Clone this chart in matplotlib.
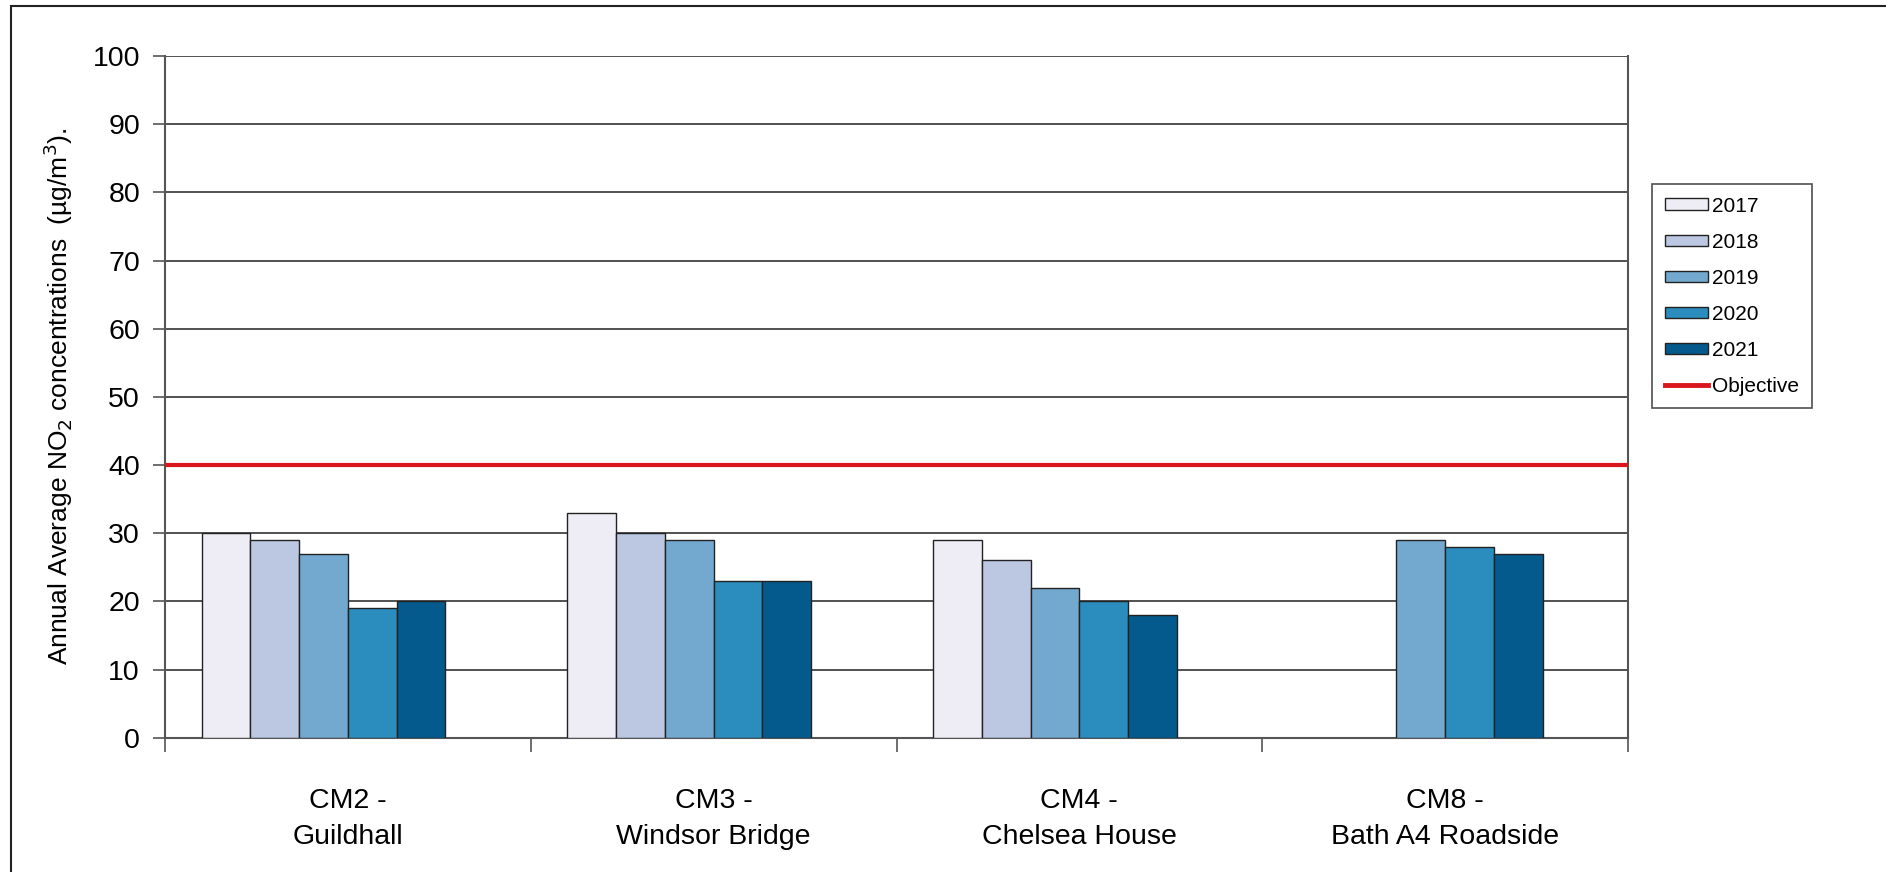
import numpy as np
import matplotlib.pyplot as plt
from matplotlib.patches import Rectangle
from matplotlib.lines import Line2D

# data
sites = ['CM2 -\nGuildhall', 'CM3 -\nWindsor Bridge', 'CM4 -\nChelsea House', 'CM8 -\nBath A4 Roadside']
years = ['2017', '2018', '2019', '2020', '2021']
no2_2017 = [30, 33, 29, np.nan]
no2_2018 = [29, 30, 26, np.nan]
no2_2019 = [27, 29, 22, 29]
no2_2020 = [19, 23, 20, 28]
no2_2021 = [20, 23, 18, 27]
objective = 40

colours = ['#EEEDF5', '#BCC8E1', '#74A9CF', '#2B8CBE', '#045A8D']
series = [no2_2017, no2_2018, no2_2019, no2_2020, no2_2021]

plt.rcParams['font.family'] = ['Liberation Sans', 'DejaVu Sans']

fig = plt.figure(figsize=(18.86, 8.72), dpi=100)
ax = fig.add_axes([165 / 1886, 1 - 737.7 / 872, (1628 - 165) / 1886, (737.7 - 56) / 872])

# Excel style: 6 slots per category (last one empty), gap width 150%
x = np.arange(len(sites))
w = 1 / 7.5
for i, (vals, col, yr) in enumerate(zip(series, colours, years)):
    ax.bar(x + (i - 2.5) * w, vals, width=w, color=col, edgecolor='#222222',
           linewidth=1.0, label=yr, zorder=3)

ax.axhline(objective, color='#D9161C', linewidth=3, zorder=4)

ax.set_xlim(-0.5, len(sites) - 0.5)
ax.set_ylim(0, 100)
ax.set_yticks(range(0, 101, 10))
ax.tick_params(axis='y', labelsize=20.5, length=9, width=1.2, color='#555555', pad=9)
ax.yaxis.grid(True, color='#333333', linewidth=1.2, zorder=0)

ax.set_xticks(np.arange(-0.5, len(sites), 1.0))
ax.set_xticklabels([])
ax.set_xticks(x, minor=True)
ax.set_xticklabels(sites, minor=True, fontsize=20.5, linespacing=1.5)
ax.tick_params(axis='x', which='major', length=10, width=1.2, color='#555555')
ax.tick_params(axis='x', which='minor', length=0, pad=36)

for s in ['left', 'right', 'bottom']:
    ax.spines[s].set_color('#555555')
    ax.spines[s].set_linewidth(1.5)
ax.spines['top'].set_visible(False)

ax.set_ylabel('Annual Average NO$_2$ concentrations  (µg/m$^3$).', fontsize=19)
ax.yaxis.set_label_coords((75 - 165) / 1463, 0.5)

handles = [Rectangle((0, 0), 1, 1, facecolor=c, edgecolor='#222222', linewidth=1) for c in colours]
handles.append(Line2D([0], [0], color='#D9161C', linewidth=3.5))
leg = fig.legend(handles, years + ['Objective'], loc='upper left',
                 bbox_to_anchor=(1652 / 1886, 1 - 184 / 872), fontsize=15,
                 frameon=True, fancybox=False, edgecolor='#222222',
                 handlelength=2.1, handleheight=0.45, handletextpad=0.2,
                 labelspacing=0.82, borderpad=0.6, borderaxespad=0)
leg.get_frame().set_linewidth(1.2)

# outer chart border (cropped on the right and bottom)
fig.patches.append(Rectangle((11 / 1886, -0.1), 1.2, 1 - 6 / 872 + 0.1,
                             transform=fig.transFigure, fill=False,
                             edgecolor='#222222', linewidth=1.5))

fig.savefig('out.png', dpi=100)
